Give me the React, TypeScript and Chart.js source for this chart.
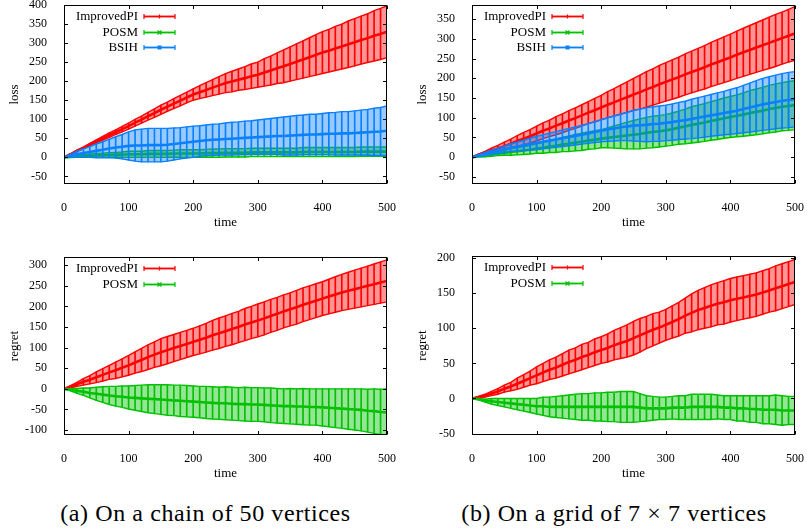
import React, { useEffect, useRef } from "react";
import { Chart, registerables } from "chart.js";

Chart.register(...registerables);
Chart.defaults.font.family = "'Liberation Serif', 'Times New Roman', serif";
Chart.defaults.color = "#000";

// ---------- data ----------
const TIME = [0,10,20,30,40,50,60,70,80,90,100,110,120,130,140,150,160,170,180,190,200,210,220,230,240,250,260,270,280,290,300,310,320,330,340,350,360,370,380,390,400,410,420,430,440,450,460,470,480,490,500];
const X_TICKS = [0, 100, 200, 300, 400, 500];

const TL_Y_TICKS = [-50, 0, 50, 100, 150, 200, 250, 300, 350, 400];
const TR_Y_TICKS = [-50, 0, 50, 100, 150, 200, 250, 300, 350];
const BL_Y_TICKS = [-100, -50, 0, 50, 100, 150, 200, 250, 300];
const BR_Y_TICKS = [-50, 0, 50, 100, 150, 200];

// (a) chain, loss
const TL_PI_MEAN = [0,8,17,25,34,42,50,58,66,74,82,91,99,108,116,125,133,141,149,157,165,171,177,183,189,195,199,204,208,213,217,223,228,234,239,245,251,257,263,269,275,280,286,291,297,302,308,313,319,324,330];
const TL_PI_ERR = [0,1,2,2,3,4,5,6,6,7,8,9,9,10,11,12,12,13,14,14,15,17,19,21,23,25,27,28,30,32,33,36,38,40,43,45,47,49,51,53,55,56,58,59,61,62,63,64,66,67,68];
const TL_POSM_MEAN = [0,1,2,3,4,5,6,6,7,7,8,8,8,9,9,9,9,10,10,10,10,10,11,11,11,12,12,12,12,13,13,13,13,13,13,13,13,14,14,14,14,14,14,14,14,14,15,15,15,15,15];
const TL_POSM_ERR = [0,1,2,3,4,5,5,6,6,7,8,8,8,9,9,9,9,9,10,10,10,10,10,11,11,11,11,11,11,11,11,11,11,11,11,11,11,12,12,12,12,12,12,12,12,12,12,12,12,12,12];
const TL_BSIH_MEAN = [0,4,8,11,14,17,20,23,26,28,30,31,31,32,32,32,33,35,37,39,41,43,45,46,47,48,49,50,51,52,53,54,55,56,56,57,58,59,60,60,61,62,62,63,63,64,65,66,67,68,70];
const TL_BSIH_ERR = [0,4,8,11,14,18,21,24,28,32,37,41,43,44,44,44,43,42,41,41,41,40,40,41,41,42,43,43,44,44,45,46,47,48,50,51,52,52,53,53,54,55,56,57,57,58,59,60,62,63,65];

// (b) grid, loss
const TR_PI_MEAN = [0,6,11,17,22,28,34,41,47,53,60,67,73,80,86,93,99,106,113,119,126,133,139,146,152,159,165,172,178,185,191,197,203,210,216,222,228,235,241,247,253,260,266,272,278,284,290,296,302,308,314];
const TR_PI_ERR = [0,2,4,6,8,10,12,14,16,17,19,20,21,23,24,25,26,27,28,30,31,33,35,37,39,41,43,45,46,48,49,50,51,52,53,54,55,56,57,58,59,60,61,62,63,64,65,66,66,67,68];
const TR_POSM_MEAN = [0,2,4,6,9,11,13,15,17,19,22,24,27,29,32,34,37,39,42,44,47,49,51,53,55,57,59,62,64,66,68,71,75,78,82,85,88,92,95,99,102,105,108,112,115,118,122,125,128,130,132];
const TR_POSM_ERR = [0,1,3,4,5,6,8,9,10,11,12,14,15,17,18,20,21,22,22,23,23,25,28,31,34,36,38,39,40,40,40,41,42,44,46,47,48,49,50,51,52,53,55,57,58,59,60,61,61,62,62];
const TR_BSIH_MEAN = [0,4,8,12,16,20,24,27,30,33,36,39,42,45,48,51,54,57,60,64,67,70,73,76,78,80,81,82,84,85,87,89,92,94,97,100,103,106,109,112,115,118,122,126,130,134,137,140,143,145,147];
const TR_BSIH_ERR = [0,2,4,5,7,8,10,11,13,15,17,18,19,20,21,22,23,24,25,27,28,30,32,34,36,39,41,43,44,45,45,46,47,48,50,51,52,53,54,55,57,58,60,62,64,66,67,68,69,70,70];

// (a) chain, regret
const BL_PI_MEAN = [0,5,11,17,22,28,34,40,45,51,57,64,70,77,83,89,94,99,104,109,114,119,124,130,135,140,145,150,156,161,166,171,177,182,188,193,198,204,209,214,219,224,229,234,238,242,246,250,254,258,262];
const BL_PI_ERR = [0,3,5,8,10,13,15,17,20,22,24,26,28,30,31,33,33,33,33,33,33,34,35,36,37,37,38,38,39,39,40,40,40,40,40,40,41,41,41,41,41,42,43,44,45,46,47,48,49,50,51];
const BL_POSM_MEAN = [0,-2,-5,-7,-10,-12,-14,-16,-18,-19,-21,-22,-23,-24,-25,-26,-27,-28,-29,-30,-31,-32,-33,-34,-35,-35,-36,-37,-37,-38,-38,-39,-40,-41,-42,-42,-43,-43,-44,-44,-45,-46,-47,-48,-49,-50,-51,-53,-54,-56,-57];
const BL_POSM_ERR = [0,3,6,9,12,16,19,22,24,26,28,30,32,34,35,36,37,37,38,38,38,38,39,39,39,40,40,40,41,41,41,41,42,42,42,43,43,44,44,44,45,46,47,48,49,50,51,52,54,55,57];

// (b) grid, regret
const BR_PI_MEAN = [0,2,4,7,10,14,17,21,25,29,33,37,41,44,48,52,55,59,62,66,69,72,76,79,82,86,90,94,98,101,105,109,113,118,122,126,129,132,135,137,140,142,144,146,148,151,154,157,160,163,166];
const BR_PI_ERR = [0,1,2,3,4,5,6,8,9,10,12,13,14,15,16,17,17,18,18,19,19,20,21,22,23,24,24,23,23,22,22,23,24,25,27,28,29,30,30,31,31,31,31,31,31,31,31,32,32,32,32];
const BR_POSM_MEAN = [0,-1,-3,-4,-5,-6,-7,-8,-9,-10,-11,-11,-12,-12,-12,-12,-12,-12,-12,-12,-12,-12,-12,-12,-12,-12,-13,-14,-14,-14,-14,-13,-13,-13,-12,-12,-12,-12,-12,-13,-13,-14,-14,-15,-15,-16,-16,-16,-17,-17,-17];
const BR_POSM_ERR = [0,1,2,4,5,6,7,8,9,10,11,13,14,15,16,17,18,19,19,20,20,21,21,22,22,22,20,18,17,16,16,16,17,17,18,18,18,18,17,17,17,18,18,19,19,20,20,21,21,20,20];

const CAPTION_A = "(a) On a chain of 50 vertices";
const CAPTION_B = "(b) On a grid of 7 \u00d7 7 vertices";

// ---------- styles ----------
const STYLE: Record<string, { line: string; fill: string; marker: string }> = {
  ImprovedPI: { line: "#ff0000", fill: "rgba(255,0,0,0.42)", marker: "plus" },
  POSM: { line: "#00c000", fill: "rgba(0,192,0,0.42)", marker: "cross" },
  BSIH: { line: "#0a80ff", fill: "rgba(10,128,255,0.42)", marker: "square" },
};

type Series = { label: string; mean: number[]; err: number[] };
type PanelCfg = {
  yTitle: string; yMin: number; yMax: number; yTicks: number[]; series: Series[];
  left: number; top: number; w: number; h: number;
  padTop: number; padRight: number; yWidth: number; xHeight: number; yTitlePad: number; xTitlePad: number;
};

const PANELS: PanelCfg[] = [
  {
    yTitle: "loss", yMin: -70, yMax: 400, yTicks: TL_Y_TICKS,
    series: [
      { label: "ImprovedPI", mean: TL_PI_MEAN, err: TL_PI_ERR },
      { label: "POSM", mean: TL_POSM_MEAN, err: TL_POSM_ERR },
      { label: "BSIH", mean: TL_BSIH_MEAN, err: TL_BSIH_ERR },
    ],
    left: 0, top: 0, w: 400, h: 240, padTop: 5, padRight: 13, yWidth: 64, xHeight: 56, yTitlePad: 7, xTitlePad: 10,
  },
  {
    yTitle: "loss", yMin: -68, yMax: 386, yTicks: TR_Y_TICKS,
    series: [
      { label: "ImprovedPI", mean: TR_PI_MEAN, err: TR_PI_ERR },
      { label: "POSM", mean: TR_POSM_MEAN, err: TR_POSM_ERR },
      { label: "BSIH", mean: TR_BSIH_MEAN, err: TR_BSIH_ERR },
    ],
    left: 405, top: 0, w: 402, h: 240, padTop: 5, padRight: 12, yWidth: 67, xHeight: 56, yTitlePad: 10, xTitlePad: 10,
  },
  {
    yTitle: "regret", yMin: -112, yMax: 320, yTicks: BL_Y_TICKS,
    series: [
      { label: "ImprovedPI", mean: BL_PI_MEAN, err: BL_PI_ERR },
      { label: "POSM", mean: BL_POSM_MEAN, err: BL_POSM_ERR },
    ],
    left: 0, top: 250, w: 400, h: 240, padTop: 7, padRight: 13, yWidth: 64, xHeight: 55, yTitlePad: 7, xTitlePad: 9,
  },
  {
    yTitle: "regret", yMin: -52, yMax: 203, yTicks: BR_Y_TICKS,
    series: [
      { label: "ImprovedPI", mean: BR_PI_MEAN, err: BR_PI_ERR },
      { label: "POSM", mean: BR_POSM_MEAN, err: BR_POSM_ERR },
    ],
    left: 405, top: 250, w: 402, h: 240, padTop: 6, padRight: 12, yWidth: 67, xHeight: 55, yTitlePad: 10, xTitlePad: 9,
  },
];

// frame, inward ticks and gnuplot-like key
const framePlugin = {
  id: "frame",
  afterDraw(chart: any, _args: any, opts: any) {
    const { ctx, chartArea: a, scales } = chart;
    ctx.save();
    ctx.strokeStyle = "#000";
    ctx.lineWidth = 1;
    const L = Math.round(a.left) + 0.5, R = Math.round(a.right) - 0.5;
    const T = Math.round(a.top) + 0.5, B = Math.round(a.bottom) - 0.5;
    ctx.strokeRect(L, T, R - L, B - T);
    const tl = 3.5;
    ctx.beginPath();
    scales.x.ticks.forEach((t: any) => {
      const px = Math.round(scales.x.getPixelForValue(t.value)) + 0.5;
      ctx.moveTo(px, B); ctx.lineTo(px, B - tl);
      ctx.moveTo(px, T); ctx.lineTo(px, T + tl);
    });
    scales.y.ticks.forEach((t: any) => {
      const py = Math.round(scales.y.getPixelForValue(t.value)) + 0.5;
      ctx.moveTo(L, py); ctx.lineTo(L + tl, py);
      ctx.moveTo(R, py); ctx.lineTo(R - tl, py);
    });
    ctx.stroke();

    (opts.items || []).forEach((label: string, i: number) => {
      const st = STYLE[label];
      const y = Math.round(a.top + 11 + i * 15.7) + 0.5;
      ctx.font = "13px 'Liberation Serif', serif";
      ctx.fillStyle = "#000";
      ctx.textAlign = "right";
      ctx.textBaseline = "middle";
      ctx.fillText(label, a.left + 74, y);
      const x0 = a.left + 80, x1 = a.left + 111, xm = (x0 + x1) / 2;
      ctx.strokeStyle = st.fill;
      ctx.lineWidth = 3;
      ctx.beginPath(); ctx.moveTo(x0, y); ctx.lineTo(x1, y); ctx.stroke();
      ctx.strokeStyle = st.line;
      ctx.lineWidth = 1.2;
      ctx.beginPath();
      ctx.moveTo(x0, y); ctx.lineTo(x1, y);
      ctx.moveTo(x0, y - 2.5); ctx.lineTo(x0, y + 2.5);
      ctx.moveTo(x1, y - 2.5); ctx.lineTo(x1, y + 2.5);
      ctx.stroke();
      ctx.fillStyle = st.line;
      if (st.marker === "square") {
        ctx.fillRect(xm - 2, y - 2, 4, 4);
      } else if (st.marker === "cross") {
        ctx.beginPath();
        ctx.moveTo(xm - 2, y - 2); ctx.lineTo(xm + 2, y + 2);
        ctx.moveTo(xm - 2, y + 2); ctx.lineTo(xm + 2, y - 2);
        ctx.stroke();
      } else {
        ctx.beginPath();
        ctx.moveTo(xm - 2, y); ctx.lineTo(xm + 2, y);
        ctx.moveTo(xm, y - 2); ctx.lineTo(xm, y + 2);
        ctx.stroke();
      }
    });
    ctx.restore();
  },
};

function buildDatasets(series: Series[]) {
  const ds: any[] = [];
  series.forEach((s) => {
    const st = STYLE[s.label];
    const lo = TIME.map((t, i) => ({ x: t, y: s.mean[i] - s.err[i] }));
    const hi = TIME.map((t, i) => ({ x: t, y: s.mean[i] + s.err[i] }));
    ds.push({ type: "line", label: s.label + " lo", data: lo, borderColor: st.line, borderWidth: 1.4, pointRadius: 0, fill: false, tension: 0 });
    ds.push({ type: "line", label: s.label + " hi", data: hi, borderColor: st.line, borderWidth: 1.4, pointRadius: 0, fill: "-1", backgroundColor: st.fill, tension: 0 });
    ds.push({
      type: "bar", label: s.label + " err",
      data: TIME.map((t, i) => ({ x: t, y: [s.mean[i] - s.err[i], s.mean[i] + s.err[i]] })),
      backgroundColor: st.line, borderWidth: 0, barThickness: 1, grouped: false,
    });
    ds.push({ type: "line", label: s.label, data: TIME.map((t, i) => ({ x: t, y: s.mean[i] })), borderColor: st.line, borderWidth: 2.6, pointRadius: 0, fill: false, tension: 0 });
  });
  ds.forEach((d, i) => (d.order = -i));
  return ds;
}

function Panel({ cfg }: { cfg: PanelCfg }) {
  const ref = useRef<HTMLCanvasElement | null>(null);
  useEffect(() => {
    if (!ref.current) return;
    const chart = new Chart(ref.current, {
      type: "line",
      data: { datasets: buildDatasets(cfg.series) },
      plugins: [framePlugin],
      options: {
        animation: false,
        responsive: false,
        maintainAspectRatio: false,
        events: [],
        layout: { padding: { top: cfg.padTop, right: cfg.padRight, left: 0, bottom: 0 } },
        plugins: {
          legend: { display: false },
          tooltip: { enabled: false },
          frame: { items: cfg.series.map((s) => s.label) },
        } as any,
        scales: {
          x: {
            type: "linear", min: 0, max: 500, offset: false,
            grid: { display: false }, border: { display: false },
            ticks: { padding: 9, font: { size: 12 }, color: "#000", maxRotation: 0, autoSkip: false },
            afterBuildTicks: (s: any) => { s.ticks = X_TICKS.map((v) => ({ value: v })); },
            afterFit: (s: any) => { s.height = cfg.xHeight; s.paddingLeft = 0; s.paddingRight = 0; },
            title: { display: true, text: "time", font: { size: 13 }, color: "#000", padding: { top: 0, bottom: cfg.xTitlePad } },
          },
          y: {
            type: "linear", min: cfg.yMin, max: cfg.yMax,
            grid: { display: false }, border: { display: false },
            ticks: { padding: 9, font: { size: 12 }, color: "#000", autoSkip: false },
            afterBuildTicks: (s: any) => { s.ticks = cfg.yTicks.map((v) => ({ value: v })); },
            afterFit: (s: any) => { s.width = cfg.yWidth; s.paddingTop = 0; s.paddingBottom = 0; },
            title: { display: true, text: cfg.yTitle, font: { size: 13 }, color: "#000", padding: { top: cfg.yTitlePad, bottom: 0 } },
          },
        } as any,
      },
    } as any);
    return () => chart.destroy();
  }, []);
  return (
    <canvas
      ref={ref}
      width={cfg.w}
      height={cfg.h}
      style={{ position: "absolute", left: cfg.left, top: cfg.top, width: cfg.w, height: cfg.h, display: "block" }}
    />
  );
}

const captionStyle: React.CSSProperties = {
  position: "absolute",
  top: 498,
  fontFamily: "'Liberation Serif', serif",
  fontSize: 24,
  lineHeight: "30px",
  textAlign: "center",
  color: "#000",
  whiteSpace: "nowrap",
  letterSpacing: 0.6,
};

export default function App() {
  return (
    <div style={{ position: "absolute", left: 0, top: 0, width: 807, height: 528, overflow: "hidden", background: "#fff" }}>
      {PANELS.map((p, i) => (
        <Panel key={i} cfg={p} />
      ))}
      <div style={{ ...captionStyle, left: 0, width: 411 }}>{CAPTION_A}</div>
      <div style={{ ...captionStyle, left: 411, width: 406 }}>{CAPTION_B}</div>
    </div>
  );
}
